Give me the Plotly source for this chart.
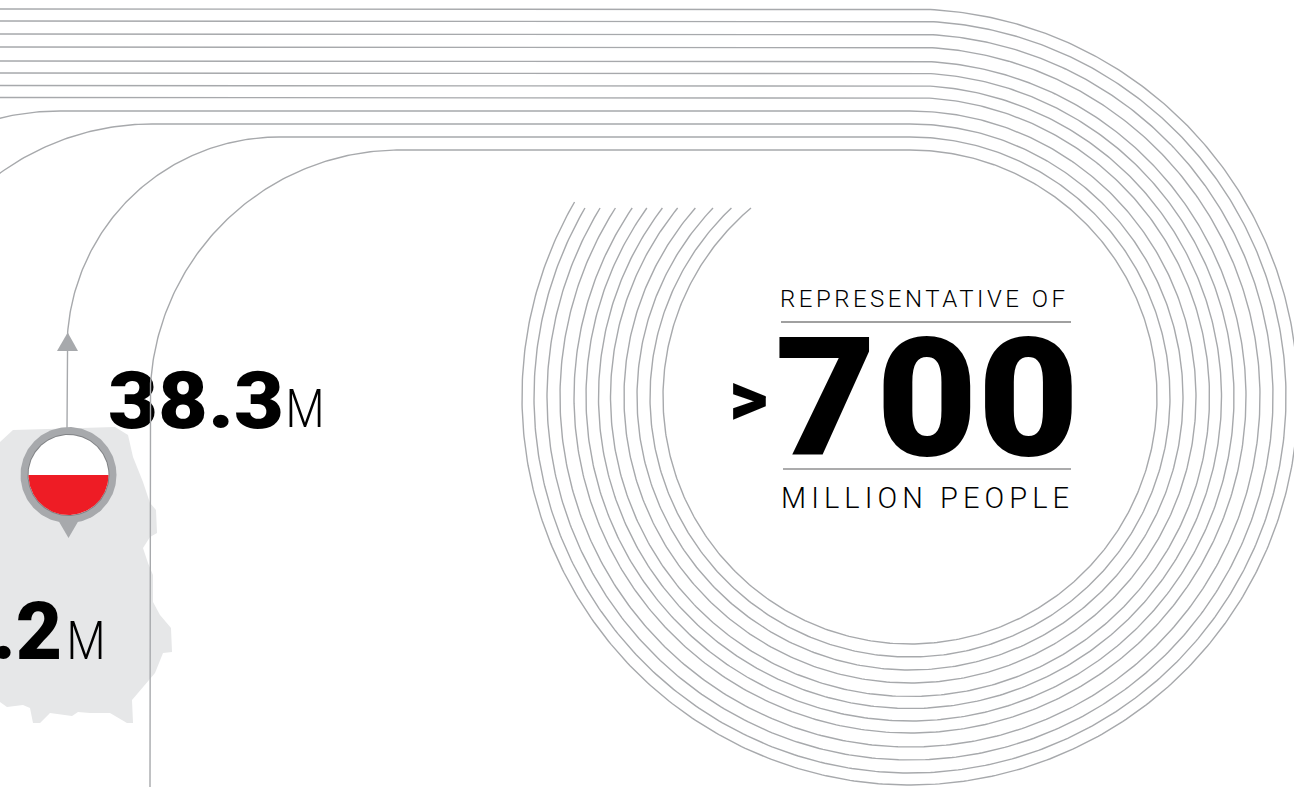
import numpy as np
import plotly.graph_objects as go

# Ring tracks: y of the straight run, and where each track meets the big circle
track_y = [9, 21, 34, 47, 61, 73, 85.5, 97.5, 111, 124, 137, 150]
arc_end_y = [202, 208, 208, 208, 208, 208, 208, 208, 208, 208, 208, 208]
ring_cx, ring_cy = 910, 397

# Tracks that bend off towards the map: index -> (bend x, bend radius, drop-to y)
bends = {8: (60, 260, None), 9: (152, 260, None), 10: (279, 212, 430), 11: (400, 250, 787)}

map_x = [0, 13, 115, 128, 133, 143, 150, 156, 157, 150, 143, 148, 153, 153, 160, 171, 172, 163, 155, 132,
         133, 127, 110, 90, 78, 72, 50, 40, 33, 30, 23, 7, 0]
map_y = [442, 430, 427, 435, 457, 482, 503, 510, 533, 537, 548, 563, 575, 602, 615, 628, 652, 653, 673, 700,
         723, 723, 713, 713, 712, 716, 713, 723, 723, 708, 705, 707, 702]

INK = "#000000"
LINE = "#a7a9ac"
RED = "#ee1c25"
FONT = "Roboto"

fig = go.Figure()


def poly(x, y, color):
    fig.add_trace(go.Scatter(x=x, y=y, mode="lines", fill="toself", fillcolor=color,
                             line=dict(width=0, color=color), hoverinfo="skip", showlegend=False))


def label(x, y, text, size, weight, pos="middle right", color=INK, family=FONT):
    fig.add_trace(go.Scatter(x=[x], y=[y], mode="text", text=[text], textposition=pos,
                             textfont=dict(family=family, size=size, color=color, weight=weight),
                             hoverinfo="skip", showlegend=False, cliponaxis=True))


def seg(x, y, color=LINE, width=1.4):
    fig.add_trace(go.Scatter(x=x, y=y, mode="lines", line=dict(color=color, width=width),
                             hoverinfo="skip", showlegend=False))


# Map underlay
poly(map_x, map_y, "#e6e7e8")

# Big numbers (drawn beneath the track lines)
label(108, 408, "38.3", 80, 900)
label(285.5, 414, "M", 53, 300)
label(62, 639, ".2", 80, 900, pos="middle left")
label(66.5, 646, "M", 53, 300)

# Tracks
for i, (yt, ye) in enumerate(zip(track_y, arc_end_y)):
    r = ring_cy - yt
    t_end = 2 * np.pi - np.arccos((ring_cy - ye) / r)
    t = np.linspace(0, t_end, 500)
    ax = ring_cx + r * np.sin(t)
    ay = ring_cy - r * np.cos(t)
    if i in bends:
        bx, br, drop = bends[i]
        th = np.linspace(np.pi / 2, 0, 120)
        lx = bx - br * np.sin(th)
        ly = yt + br - br * np.cos(th)
        if drop:
            lx = np.concatenate([[lx[0]], lx])
            ly = np.concatenate([[drop], ly])
    else:
        lx, ly = np.array([0.0]), np.array([yt])
    seg(np.concatenate([lx, ax]), np.concatenate([ly, ay]))

# Arrow head on track 11
poly([57, 67.7, 78], [351, 332.5, 351], LINE)

# Pin
pin_x, pin_y = 68.5, 475
a = np.linspace(0, 2 * np.pi, 200)
poly(pin_x + 48 * np.cos(a), pin_y + 48 * np.sin(a), LINE)
poly([58, 68.5, 79], [520, 538, 520], LINE)
poly(pin_x + 41 * np.cos(a), pin_y + 41 * np.sin(a), "#808285")
poly(pin_x + 40 * np.cos(a), pin_y + 40 * np.sin(a), "#ffffff")
h = np.linspace(0, np.pi, 100)
poly(pin_x + 40 * np.cos(h), pin_y + 40 * np.sin(h), RED)

# Central callout
label(780, 301, "REPRESENTATIVE OF", 24, 300)
seg([781, 1071], [322, 322], "#808080", 1.6)
label(775, 413, "700", 166, 900)
label(729, 405, ">", 76, 900)
seg([783, 1071], [469, 469], "#58595b", 1.2)
label(781, 501, "MILLION PEOPLE", 29, 300)

fig.update_layout(
    width=1294, height=787, margin=dict(l=0, r=0, t=0, b=0, pad=0),
    paper_bgcolor="#ffffff", plot_bgcolor="#ffffff", showlegend=False,
    xaxis=dict(range=[0, 1294], visible=False, fixedrange=True),
    yaxis=dict(range=[787, 0], visible=False, fixedrange=True),
)

# Fitted text widths: [length, SVG lengthAdjust]
fit = {"REPRESENTATIVE OF": [285, "spacing"], "MILLION PEOPLE": [288, "spacing"],
       "700": [304, "spacingAndGlyphs"], "38.3": [176, "spacingAndGlyphs"],
       "M": [39, "spacingAndGlyphs"]}
post = ("document.body.style.margin='0';"
        "var fit=%r;" % fit +
        "document.querySelectorAll('svg text').forEach(function(t){"
        "var f=fit[t.textContent];if(f){t.setAttribute('textLength',f[0]);"
        "t.setAttribute('lengthAdjust',f[1]);}});")
fig.write_html("out.html", post_script=post, config={"displayModeBar": False, "staticPlot": True})
